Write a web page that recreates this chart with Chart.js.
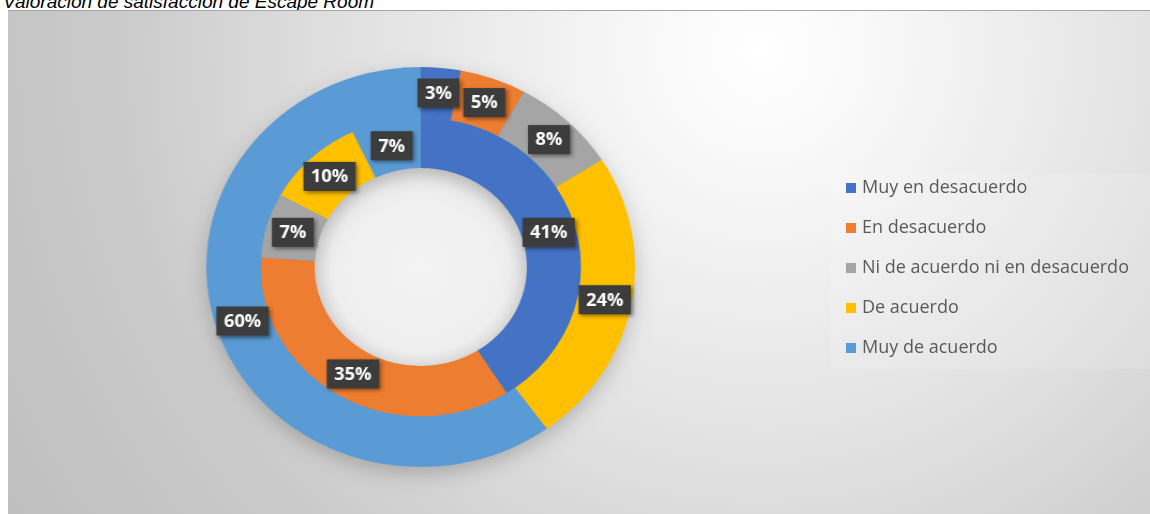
<!DOCTYPE html>
<html lang="es">
<head>
  <meta charset="UTF-8" />
  <script src="https://cdn.jsdelivr.net/npm/chart.js"></script>
  <title>Valoración de satisfacción de Escape Room</title>
  <style>
    html, body { margin: 0; padding: 0; background: #fff; width: 1150px; height: 514px; overflow: hidden; }
    #title {
      position: absolute; left: 3px; top: -9px; line-height: 19px;
      font: italic 19px 'Liberation Sans', Arial, sans-serif; color: #000; white-space: nowrap;
    }
    #box {
      position: absolute; left: 8px; top: 10px; width: 1142px; height: 504px;
      border-top: 1px solid #a6a6a6; box-sizing: border-box; overflow: hidden;
      background: radial-gradient(circle at 66% 8%, #ffffff 0px, #f6f6f6 140px, #e0e0e0 420px, #cacaca 650px, #bebebe 900px);
    }
    #wrap {
      position: absolute; left: 0; top: 0; width: 1000px; height: 504px;
      transform: scaleX(1.072); transform-origin: 0 0;
    }
    #legend {
      position: absolute; left: 822px; top: 162px; width: 320px; height: 196px;
      background: rgba(255,255,255,0.12);
    }
    .item {
      position: absolute; left: 16px; font: 18px 'Open Sans', sans-serif; color: #595959; white-space: nowrap;
    }
    .item span { display: inline-block; width: 10px; height: 10px; margin-right: 6px; }
  </style>
</head>
<body>
  <div id="title">Valoración de satisfacción de Escape Room</div>
  <div id="box">
    <div id="wrap"><canvas id="chart"></canvas></div>
    <div id="legend"></div>
  </div>

  <script>
    // categories and values
    const categorias = ['Muy en desacuerdo', 'En desacuerdo', 'Ni de acuerdo ni en desacuerdo', 'De acuerdo', 'Muy de acuerdo'];
    const anilloExterior = [3, 5, 8, 24, 60];
    const anilloInterior = [41, 35, 7, 10, 7];
    const colores = ['#4472C4', '#ED7D31', '#A5A5A5', '#FFC000', '#5B9BD5'];

    // legend (html)
    const legend = document.getElementById('legend');
    categorias.forEach(function (c, i) {
      const d = document.createElement('div');
      d.className = 'item';
      d.style.top = (1 + i * 40) + 'px';
      d.innerHTML = '<span style="background:' + colores[i] + '"></span>' + c;
      legend.appendChild(d);
    });

    // soft shadow under the rings, light hole, dark label boxes
    const ringPlugin = {
      id: 'ringPlugin',
      beforeDatasetsDraw(chart) {
        const ctx = chart.ctx;
        const arc = chart.getDatasetMeta(0).data[0];
        const inner = chart.getDatasetMeta(1).data[0];
        const p = arc.getProps(['x', 'y', 'outerRadius']);
        const r2 = inner.getProps(['innerRadius']).innerRadius;
        ctx.save();
        const g = ctx.createRadialGradient(p.x, p.y, 0, p.x, p.y, r2);
        g.addColorStop(0, '#f3f3f3');
        g.addColorStop(0.85, '#efefef');
        g.addColorStop(1, '#e4e4e4');
        ctx.fillStyle = g;
        ctx.beginPath();
        ctx.arc(p.x, p.y, r2 + 1, 0, Math.PI * 2);
        ctx.fill();
        ctx.shadowColor = 'rgba(0,0,0,0.22)';
        ctx.shadowBlur = 20;
        ctx.shadowOffsetY = 7;
        ctx.fillStyle = '#5B9BD5';
        ctx.beginPath();
        ctx.arc(p.x, p.y, p.outerRadius - 1, 0, Math.PI * 2);
        ctx.arc(p.x, p.y, r2 + 1, 0, Math.PI * 2, true);
        ctx.fill();
        ctx.restore();
      },
      afterDatasetsDraw(chart) {
        const ctx = chart.ctx;
        ctx.save();
        ctx.font = 'bold 17px "Open Sans", sans-serif';
        ctx.textAlign = 'center';
        ctx.textBaseline = 'middle';
        chart.data.datasets.forEach(function (ds, di) {
          chart.getDatasetMeta(di).data.forEach(function (el, i) {
            const pos = el.tooltipPosition();
            const txt = ds.data[i] + '%';
            const w = ctx.measureText(txt).width + 14;
            const h = 29;
            ctx.save();
            ctx.shadowColor = 'rgba(0,0,0,0.45)';
            ctx.shadowBlur = 4;
            ctx.shadowOffsetX = 2;
            ctx.shadowOffsetY = 2;
            ctx.fillStyle = '#3c3c3c';
            ctx.fillRect(pos.x - w / 2, pos.y - h / 2, w, h);
            ctx.restore();
            ctx.fillStyle = '#ffffff';
            ctx.fillText(txt, pos.x, pos.y + 1);
          });
        });
        ctx.restore();
      }
    };

    new Chart(document.getElementById('chart'), {
      type: 'doughnut',
      data: {
        labels: categorias,
        datasets: [
          { label: 'Exterior', data: anilloExterior, backgroundColor: colores, borderWidth: 0 },
          { label: 'Interior', data: anilloInterior, backgroundColor: colores, borderWidth: 0 }
        ]
      },
      options: {
        responsive: true,
        maintainAspectRatio: false,
        animation: false,
        cutout: '49.5%',
        layout: { padding: { left: 185, right: 415, top: 56, bottom: 48 } },
        plugins: {
          legend: { display: false },
          tooltip: { enabled: false }
        }
      },
      plugins: [ringPlugin]
    });
  </script>
</body>
</html>
